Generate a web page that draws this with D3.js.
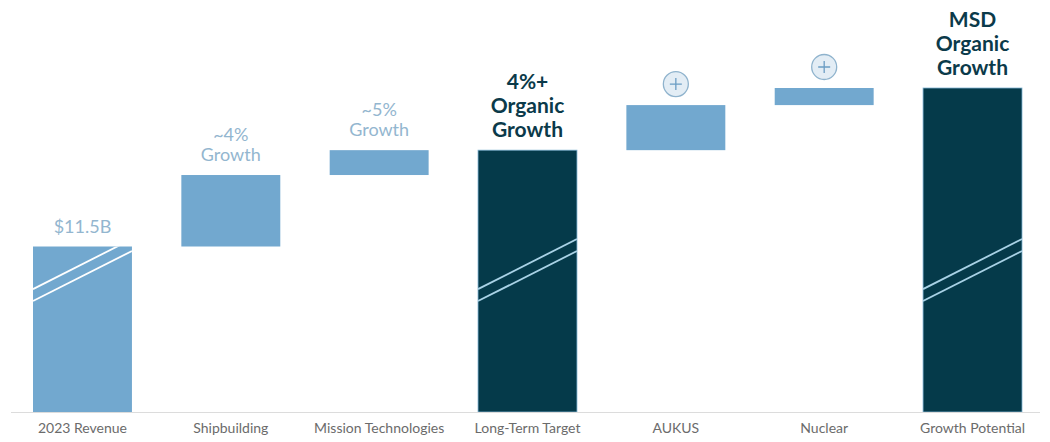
<!DOCTYPE html>
<html>
<head>
<meta charset="utf-8">
<script src="https://cdn.jsdelivr.net/npm/d3@7"></script>
<style>
  html, body { margin: 0; padding: 0; background: #fff; }
  svg { display: block; font-family: Lato, "Open Sans", sans-serif; }
</style>
</head>
<body>
<svg id="chart" width="1050" height="442"></svg>
<script>
// Waterfall: revenue bridge to long-term growth potential ($B, truncated axis)
const categories = ["2023 Revenue", "Shipbuilding", "Mission Technologies", "Long-Term Target", "AUKUS", "Nuclear", "Growth Potential"];
const kinds      = ["base", "step", "step", "total", "step", "step", "total"];
const deltas     = [11.5, 0.46, 0.16, 0, 0.29, 0.11, 0];
const topLabels  = [["$11.5B"], ["~4%", "Growth"], ["~5%", "Growth"], ["4%+", "Organic", "Growth"], null, null, ["MSD", "Organic", "Growth"]];
const labelStyle = ["light", "light", "light", "dark", "plus", "plus", "dark"];
const axisFloor  = 10.435;   // value at the broken baseline

const colors = { light: "#72a8cf", dark: "#053a4a", lightText: "#93b6cf", darkText: "#0b3a4a", axisText: "#6b6b6b" };

// Build running totals
let run = 0;
const bars = categories.map((c, i) => {
  let y0, y1;
  if (kinds[i] === "base") { y0 = axisFloor; run = deltas[i]; y1 = run; }
  else if (kinds[i] === "step") { y0 = run; run += deltas[i]; y1 = run; }
  else { y0 = axisFloor; y1 = run; }
  return { cat: c, kind: kinds[i], y0, y1, label: topLabels[i], style: labelStyle[i] };
});

const x = d3.scaleBand().domain(categories).range([8.3, 1046.7]).paddingInner(0.333).paddingOuter(0.1665);
const y = d3.scaleLinear().domain([axisFloor, 12.52]).range([412, 88]);

const svg = d3.select("#chart");

// bars
svg.selectAll("rect.bar").data(bars).join("rect")
  .attr("class", "bar")
  .attr("x", d => x(d.cat))
  .attr("width", x.bandwidth())
  .attr("y", d => y(d.y1))
  .attr("height", d => y(d.y0) - y(d.y1))
  .attr("fill", d => d.kind === "total" ? colors.dark : colors.light)
  .attr("stroke", d => d.kind === "total" ? "#7fb3d3" : "none")
  .attr("stroke-width", 0.8);

// axis break marks on full-height bars
const breakBars = bars.filter(d => d.kind !== "step");
svg.append("defs").selectAll("clipPath").data(breakBars).join("clipPath")
  .attr("id", (d, i) => "clip" + i)
  .append("rect")
  .attr("x", d => x(d.cat)).attr("width", x.bandwidth())
  .attr("y", d => y(d.y1)).attr("height", d => y(d.y0) - y(d.y1));

const breakVals = [[11.226, 11.548], [11.149, 11.471]]; // left/right ends of the two slashes
breakBars.forEach((d, i) => {
  const g = svg.append("g").attr("clip-path", `url(#clip${i})`);
  breakVals.forEach(([a, b]) => {
    g.append("line")
      .attr("x1", x(d.cat)).attr("x2", x(d.cat) + x.bandwidth())
      .attr("y1", y(a)).attr("y2", y(b))
      .attr("stroke", d.kind === "total" ? "#a9d2e6" : "#ffffff")
      .attr("stroke-width", 1.8);
  });
});

// baseline
svg.append("line")
  .attr("x1", 11).attr("x2", 1040)
  .attr("y1", 412.5).attr("y2", 412.5)
  .attr("stroke", "#dcdcdc").attr("stroke-width", 1);

// category labels
const xAxis = d3.axisBottom(x).tickSize(0).tickPadding(0);
const ax = svg.append("g").attr("transform", "translate(0,420)").call(xAxis);
ax.select(".domain").remove();
ax.selectAll("text")
  .attr("dy", "0.9em")
  .attr("fill", colors.axisText)
  .style("font-size", "14px")
  .style("font-family", "Lato, sans-serif");

// value / growth labels above bars
bars.forEach(d => {
  const cx = x(d.cat) + x.bandwidth() / 2;
  const top = y(d.y1);
  if (d.style === "plus") {
    const cy = top - 21;
    svg.append("circle").attr("cx", cx).attr("cy", cy).attr("r", 12.5)
      .attr("fill", "#e3edf5").attr("stroke", "#8fb3cd").attr("stroke-width", 1.3);
    svg.append("path")
      .attr("d", `M${cx - 6},${cy}H${cx + 6}M${cx},${cy - 6}V${cy + 6}`)
      .attr("stroke", "#6b9dc4").attr("stroke-width", 1.3);
    return;
  }
  const dark = d.style === "dark";
  const lh = dark ? 24 : 20;
  const gap = dark ? 13 : 14;
  const n = d.label.length;
  const t = svg.append("text")
    .attr("text-anchor", "middle")
    .attr("fill", dark ? colors.darkText : colors.lightText)
    .style("font-size", dark ? "21px" : "18px")
    .style("font-weight", dark ? "700" : "400");
  d.label.forEach((s, k) => {
    t.append("tspan").attr("x", cx).attr("y", top - gap - (n - 1 - k) * lh).text(s);
  });
});
</script>
</body>
</html>
